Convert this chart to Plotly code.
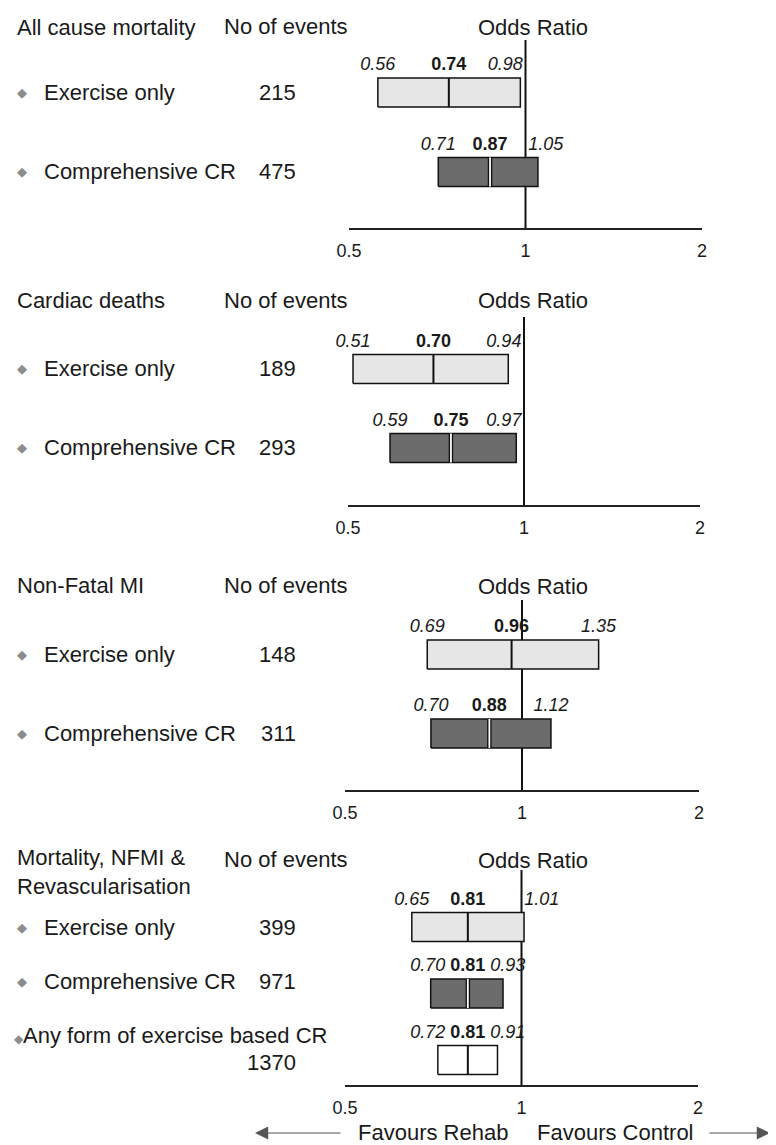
import math
import plotly.graph_objects as go

# page is 776 x 1145; the browser body adds an 8px margin, so the figure is
# made 8px smaller on each used side and every layout position is offset by 8px
OFF = 8
W, H = 776 - OFF, 1145 - OFF

# ---------------- data ----------------
outcome_titles = ["All cause mortality", "Cardiac deaths", "Non-Fatal MI",
                  "Mortality, NFMI &<br>Revascularisation"]
group_names = ["Exercise only", "Comprehensive CR", "Any form of exercise based CR"]

all_cause_events = [215, 475]
all_cause_or = [0.74, 0.87]
all_cause_lo = [0.56, 0.71]
all_cause_hi = [0.98, 1.05]

cardiac_events = [189, 293]
cardiac_or = [0.70, 0.75]
cardiac_lo = [0.51, 0.59]
cardiac_hi = [0.94, 0.97]

nfmi_events = [148, 311]
nfmi_or = [0.96, 0.88]
nfmi_lo = [0.69, 0.70]
nfmi_hi = [1.35, 1.12]

composite_events = [399, 971, 1370]
composite_or = [0.81, 0.81, 0.81]
composite_lo = [0.65, 0.70, 0.72]
composite_hi = [1.01, 0.93, 0.91]

tick_vals = [0.5, 1, 2]
tick_text = ["0.5", "1", "2"]

panels = [
    (all_cause_events, all_cause_or, all_cause_lo, all_cause_hi),
    (cardiac_events, cardiac_or, cardiac_lo, cardiac_hi),
    (nfmi_events, nfmi_or, nfmi_lo, nfmi_hi),
    (composite_events, composite_or, composite_lo, composite_hi),
]

# ---------------- layout / style ----------------
FONT = "Liberation Sans, Arial, sans-serif"
TXT = "#1a1a1a"
fills = ["#e6e6e6", "#6c6c6c", "#ffffff"]
dark = [False, True, False]

geom = [
    dict(x0=349, x1=702, top=40, bottom=228, row0=92.5, step=79.5, head=26, title_y=27,
         shift=[0, 0], cshift=[0, 0]),
    dict(x0=348, x1=700, top=317, bottom=505, row0=369, step=79, head=300, title_y=300,
         shift=[0, 0], cshift=[0, 0]),
    dict(x0=345, x1=699, top=600, bottom=790, row0=654.5, step=79, head=585, title_y=585,
         shift=[0, 0], cshift=[0, 0]),
    dict(x0=345, x1=698, top=870, bottom=1085, row0=927, step=66.5, head=859, title_y=872,
         shift=[0, -12, -25], cshift=[0, -12, 2]),
]


def px(p):
    return (p - OFF) / W


def py(p):
    return 1 - (p - OFF) / H


LINE_GAP = 2 ** (20 / 175)   # keeps labels clear of the OR = 1 line
EST_GAP = 1.17               # keeps CI labels clear of the estimate label

fig = go.Figure()
layout = dict(
    width=W, height=H, margin=dict(l=0, r=0, t=0, b=0, pad=0, autoexpand=False),
    paper_bgcolor="white", plot_bgcolor="white", showlegend=False,
    hovermode=False, font=dict(family=FONT, color=TXT),
)
annotations = []

for i, ((events, est, lo, hi), g) in enumerate(zip(panels, geom)):
    sfx = "" if i == 0 else str(i + 1)
    xa, ya = "x" + sfx, "y" + sfx
    step = g["step"]
    yb = -(g["bottom"] - g["row0"]) / step
    yt = (g["row0"] - g["top"]) / step
    layout["xaxis" + sfx] = dict(
        type="log", range=[math.log10(0.5), math.log10(2)],
        domain=[px(g["x0"]), px(g["x1"])], anchor=ya,
        showline=True, linecolor="#222", linewidth=1.5, ticks="",
        tickvals=tick_vals, ticktext=tick_text, showgrid=False, zeroline=False,
        tickfont=dict(size=18, family=FONT, color=TXT), ticklabelstandoff=6,
        fixedrange=True, automargin=False,
    )
    layout["yaxis" + sfx] = dict(
        range=[yb, yt], domain=[py(g["bottom"]), py(g["top"])], anchor=xa,
        visible=False, fixedrange=True, automargin=False,
    )
    # reference line at OR = 1
    fig.add_trace(go.Scatter(x=[1, 1], y=[yb, yt], mode="lines",
                             line=dict(color="#111", width=2), xaxis=xa, yaxis=ya))
    h = 14.5 / step
    lab_dy = 27 / step
    for k in range(len(events)):
        yc = -k
        fig.add_trace(go.Scatter(
            x=[lo[k], hi[k], hi[k], lo[k], lo[k]],
            y=[yc - h, yc - h, yc + h, yc + h, yc - h],
            mode="lines", fill="toself", fillcolor=fills[k],
            line=dict(color="#111", width=1.5), xaxis=xa, yaxis=ya))
        if dark[k]:
            fig.add_trace(go.Scatter(x=[est[k], est[k]], y=[yc - h, yc + h], mode="lines",
                                     line=dict(color="#111", width=4.5), xaxis=xa, yaxis=ya))
            fig.add_trace(go.Scatter(x=[est[k], est[k]], y=[yc - h, yc + h], mode="lines",
                                     line=dict(color="white", width=1.8), xaxis=xa, yaxis=ya))
        else:
            fig.add_trace(go.Scatter(x=[est[k], est[k]], y=[yc - h, yc + h], mode="lines",
                                     line=dict(color="#111", width=2), xaxis=xa, yaxis=ya))
        lo_pos = min(lo[k], est[k] / EST_GAP)
        hi_pos = hi[k]
        if hi_pos < 1:
            hi_pos = min(hi_pos, 1 / LINE_GAP)
        else:
            hi_pos = max(hi_pos, LINE_GAP)
        hi_pos = max(hi_pos, est[k] * EST_GAP)
        fig.add_trace(go.Scatter(
            x=[lo_pos, est[k], hi_pos], y=[yc + lab_dy] * 3, mode="text",
            text=[f"<i>{lo[k]:.2f}</i>", f"<b>{est[k]:.2f}</b>", f"<i>{hi[k]:.2f}</i>"],
            textposition="middle center", cliponaxis=False,
            textfont=dict(size=18, family=FONT, color=TXT), xaxis=xa, yaxis=ya))

        # left-hand labels
        ly = yc - g["shift"][k] / step
        cy = yc - g["cshift"][k] / step
        if k < 2:
            annotations.append(dict(x=px(22), y=ly, xref="paper", yref=ya, text="◆",
                                    showarrow=False, xanchor="center", yanchor="middle",
                                    font=dict(size=13, color="#8c8c8c")))
            annotations.append(dict(x=px(42), y=ly, xref="paper", yref=ya, text=group_names[k],
                                    showarrow=False, xanchor="left", yanchor="middle",
                                    font=dict(size=22, family=FONT, color=TXT)))
        else:
            annotations.append(dict(x=px(12), y=ly, xref="paper", yref=ya,
                                    text="<span style='color:#8c8c8c;font-size:12px'>◆</span>" + group_names[k],
                                    showarrow=False, xanchor="left", yanchor="middle",
                                    font=dict(size=22, family=FONT, color=TXT)))
        annotations.append(dict(x=px(298), y=cy, xref="paper", yref=ya, text=str(events[k]),
                                showarrow=False, xanchor="right", yanchor="middle",
                                font=dict(size=22, family=FONT, color=TXT)))

    # headers
    annotations.append(dict(x=px(15), y=py(g["title_y"]), xref="paper", yref="paper",
                            text=outcome_titles[i], showarrow=False, xanchor="left",
                            yanchor="middle", align="left",
                            font=dict(size=22, family=FONT, color=TXT)))
    annotations.append(dict(x=px(222), y=py(g["head"]), xref="paper", yref="paper",
                            text="No of events", showarrow=False, xanchor="left",
                            yanchor="middle", font=dict(size=22, family=FONT, color=TXT)))
    annotations.append(dict(x=px(533), y=py(g["head"] + 1), xref="paper", yref="paper",
                            text="Odds Ratio", showarrow=False, xanchor="center",
                            yanchor="middle", font=dict(size=22, family=FONT, color=TXT)))

# favours labels and arrows
annotations.append(dict(x=px(433), y=py(1132), xref="paper", yref="paper", text="Favours Rehab",
                        showarrow=False, xanchor="center", yanchor="middle",
                        font=dict(size=22, family=FONT, color=TXT)))
annotations.append(dict(x=px(615), y=py(1132), xref="paper", yref="paper", text="Favours Control",
                        showarrow=False, xanchor="center", yanchor="middle",
                        font=dict(size=22, family=FONT, color=TXT)))
annotations.append(dict(x=px(255), y=py(1133), xref="paper", yref="paper", text="",
                        showarrow=True, ax=87, ay=0, arrowhead=2, arrowsize=2.2,
                        arrowwidth=1.2, arrowcolor="#555"))
annotations.append(dict(x=px(770), y=py(1133), xref="paper", yref="paper", text="",
                        showarrow=True, ax=-62, ay=0, arrowhead=2, arrowsize=2.2,
                        arrowwidth=1.2, arrowcolor="#555"))

layout["annotations"] = annotations
fig.update_layout(**layout)
fig.write_html("out.html")
